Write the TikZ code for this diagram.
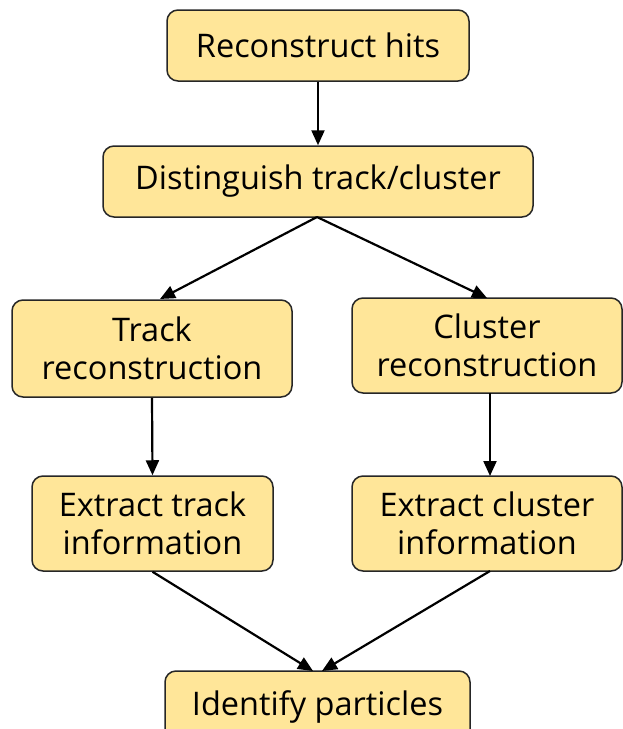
\documentclass[tikz,border=0pt]{standalone}
\usepackage{fontspec}
\setmainfont{Open Sans}
\usetikzlibrary{arrows.meta}
\definecolor{boxfill}{HTML}{FFE699}
\begin{document}
\begin{tikzpicture}[x=1pt,y=-1pt,
  box/.style={draw=black!85, line width=1.5pt, fill=boxfill, rounded corners=11pt,
    align=center, inner sep=0pt, font=\fontsize{32.5}{38.5}\selectfont},
  conn/.style={line width=2.2pt, -{Triangle[length=15pt,width=13pt]}}]
\useasboundingbox (0,0) rectangle (622,729);
\node[box, minimum width=302pt, minimum height=71pt] (hits) at (318,45.5) {Reconstruct hits};
\node[box, minimum width=430pt, minimum height=71pt] (dist) at (318,181.5) {Distinguish track/cluster};
\node[box, minimum width=280pt, minimum height=97pt] (trk) at (152,348.5) {Track\\reconstruction};
\node[box, minimum width=270pt, minimum height=95pt] (clu) at (487,345.5) {Cluster\\reconstruction};
\node[box, minimum width=241pt, minimum height=95pt] (etrk) at (152.5,523.5) {Extract track\\information};
\node[box, minimum width=270pt, minimum height=95pt] (eclu) at (487,523.5) {Extract cluster\\information};
\node[box, minimum width=305pt, minimum height=71pt] (pid) at (317.5,706.5) {Identify particles};
\coordinate (d1) at (317,217);
\coordinate (pa) at (313,671);
\coordinate (pb) at (322,671);
\draw[conn] (hits.south) -- (dist.north);
\draw[conn] (d1) -- (160,299);
\draw[conn] (d1) -- (487,298);
\draw[conn] (trk.south) -- (etrk.north);
\draw[conn] (490,393) -- (490,476);
\draw[conn] (etrk.south) -- (pa);
\draw[conn] (490,571) -- (pb);
\end{tikzpicture}
\end{document}
